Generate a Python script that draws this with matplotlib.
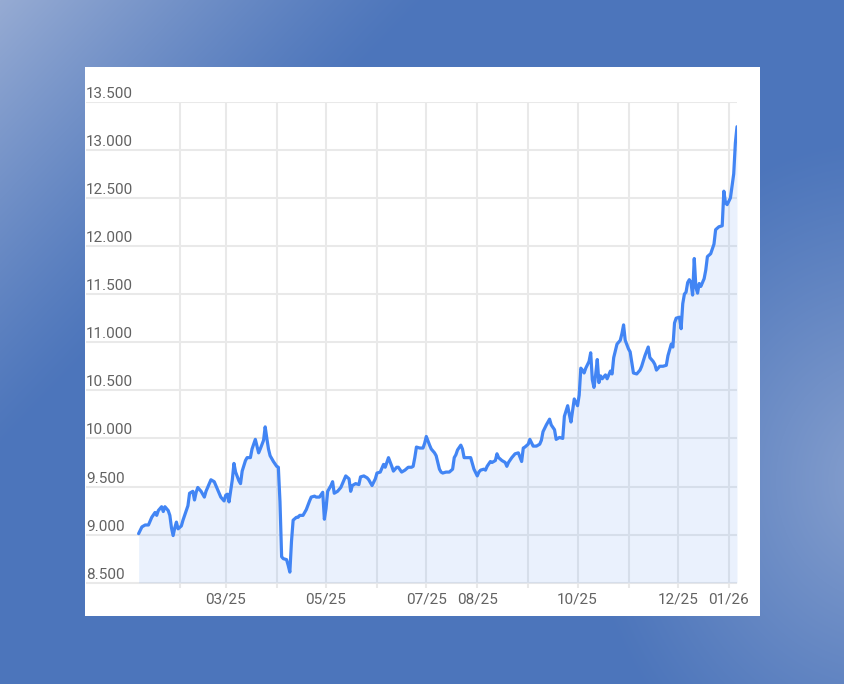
import numpy as np
import pandas as pd
import matplotlib
matplotlib.use("Agg")
import matplotlib.pyplot as plt
import matplotlib.transforms as mtrans
from matplotlib.patches import Rectangle

# ---------------- data ----------------
dates = [
    "2025-01-07", "2025-01-09", "2025-01-11", "2025-01-13", "2025-01-15", "2025-01-17", "2025-01-18",
    "2025-01-19", "2025-01-21", "2025-01-22", "2025-01-23", "2025-01-25", "2025-01-26", "2025-01-27",
    "2025-01-28", "2025-01-29", "2025-01-30", "2025-01-31", "2025-02-02", "2025-02-03", "2025-02-05",
    "2025-02-06", "2025-02-07", "2025-02-09", "2025-02-10", "2025-02-11", "2025-02-12", "2025-02-14",
    "2025-02-16", "2025-02-17", "2025-02-18", "2025-02-20", "2025-02-22", "2025-02-23", "2025-02-25",
    "2025-02-26", "2025-02-28", "2025-03-01", "2025-03-02", "2025-03-03", "2025-03-05", "2025-03-06",
    "2025-03-07", "2025-03-09", "2025-03-10", "2025-03-11", "2025-03-13", "2025-03-14", "2025-03-16",
    "2025-03-17", "2025-03-19", "2025-03-20", "2025-03-21", "2025-03-22", "2025-03-24", "2025-03-25",
    "2025-03-26", "2025-03-27", "2025-03-28", "2025-03-30", "2025-04-01", "2025-04-02", "2025-04-03",
    "2025-04-04", "2025-04-05", "2025-04-07", "2025-04-08", "2025-04-09", "2025-04-10", "2025-04-11",
    "2025-04-13", "2025-04-14", "2025-04-15", "2025-04-17", "2025-04-19", "2025-04-21", "2025-04-22",
    "2025-04-24", "2025-04-25", "2025-04-27", "2025-04-29", "2025-04-30", "2025-05-01", "2025-05-02",
    "2025-05-04", "2025-05-05", "2025-05-06", "2025-05-08", "2025-05-10", "2025-05-12", "2025-05-13",
    "2025-05-15", "2025-05-16", "2025-05-17", "2025-05-19", "2025-05-21", "2025-05-22", "2025-05-24",
    "2025-05-26", "2025-05-27", "2025-05-29", "2025-05-31", "2025-06-01", "2025-06-03", "2025-06-05",
    "2025-06-06", "2025-06-07", "2025-06-08", "2025-06-10", "2025-06-11", "2025-06-13", "2025-06-14",
    "2025-06-16", "2025-06-18", "2025-06-20", "2025-06-22", "2025-06-23", "2025-06-24", "2025-06-25",
    "2025-06-27", "2025-06-29", "2025-06-30", "2025-07-01", "2025-07-03", "2025-07-04", "2025-07-06",
    "2025-07-07", "2025-07-09", "2025-07-10", "2025-07-11", "2025-07-13", "2025-07-15", "2025-07-17",
    "2025-07-18", "2025-07-19", "2025-07-20", "2025-07-22", "2025-07-23", "2025-07-24", "2025-07-26",
    "2025-07-28", "2025-07-30", "2025-08-01", "2025-08-02", "2025-08-03", "2025-08-05", "2025-08-06",
    "2025-08-07", "2025-08-09", "2025-08-10", "2025-08-12", "2025-08-13", "2025-08-14", "2025-08-16",
    "2025-08-18", "2025-08-19", "2025-08-20", "2025-08-22", "2025-08-24", "2025-08-26", "2025-08-28",
    "2025-08-29", "2025-08-30", "2025-09-01", "2025-09-02", "2025-09-04", "2025-09-06", "2025-09-08",
    "2025-09-09", "2025-09-10", "2025-09-12", "2025-09-14", "2025-09-15", "2025-09-17", "2025-09-18",
    "2025-09-20", "2025-09-22", "2025-09-23", "2025-09-25", "2025-09-26", "2025-09-27", "2025-09-29",
    "2025-10-01", "2025-10-02", "2025-10-03", "2025-10-04", "2025-10-05", "2025-10-06", "2025-10-08",
    "2025-10-09", "2025-10-10", "2025-10-11", "2025-10-12", "2025-10-13", "2025-10-14", "2025-10-15",
    "2025-10-16", "2025-10-18", "2025-10-19", "2025-10-21", "2025-10-22", "2025-10-23", "2025-10-25",
    "2025-10-27", "2025-10-28", "2025-10-29", "2025-10-30", "2025-11-01", "2025-11-02", "2025-11-04",
    "2025-11-06", "2025-11-08", "2025-11-09", "2025-11-11", "2025-11-13", "2025-11-14", "2025-11-16",
    "2025-11-17", "2025-11-18", "2025-11-20", "2025-11-22", "2025-11-24", "2025-11-25", "2025-11-27",
    "2025-11-28", "2025-11-29", "2025-11-30", "2025-12-02", "2025-12-03", "2025-12-04", "2025-12-05",
    "2025-12-06", "2025-12-07", "2025-12-08", "2025-12-09", "2025-12-10", "2025-12-11", "2025-12-12",
    "2025-12-13", "2025-12-14", "2025-12-15", "2025-12-17", "2025-12-18", "2025-12-19", "2025-12-21",
    "2025-12-23", "2025-12-24", "2025-12-26", "2025-12-28", "2025-12-29", "2025-12-30", "2025-12-31",
    "2026-01-02", "2026-01-04", "2026-01-05", "2026-01-06",
]
values = [
    9010, 9080, 9100, 9100, 9180, 9230, 9200, 9250, 9290, 9240, 9290, 9250, 9200, 9070, 8990, 9070,
    9130, 9060, 9090, 9150, 9250, 9300, 9430, 9450, 9360, 9440, 9490, 9450, 9390, 9450, 9490, 9570,
    9550, 9510, 9430, 9390, 9350, 9410, 9420, 9340, 9570, 9740, 9650, 9560, 9530, 9660, 9770, 9800,
    9800, 9890, 9990, 9920, 9850, 9890, 9980, 10120, 10000, 9890, 9820, 9760, 9710, 9700, 9340, 8770,
    8750, 8740, 8680, 8610, 8930, 9150, 9180, 9180, 9200, 9200, 9260, 9350, 9390, 9400, 9390, 9390,
    9440, 9160, 9270, 9450, 9510, 9550, 9430, 9450, 9490, 9570, 9610, 9580, 9450, 9510, 9530, 9520,
    9600, 9610, 9590, 9570, 9510, 9580, 9640, 9650, 9730, 9700, 9750, 9800, 9710, 9660, 9700, 9700,
    9650, 9670, 9700, 9700, 9710, 9800, 9910, 9900, 9900, 9950, 10020, 9930, 9890, 9850, 9820, 9680,
    9650, 9640, 9650, 9650, 9680, 9800, 9830, 9880, 9930, 9890, 9800, 9800, 9800, 9680, 9610, 9650,
    9670, 9680, 9670, 9710, 9760, 9750, 9770, 9840, 9800, 9770, 9750, 9710, 9750, 9800, 9840, 9850,
    9760, 9900, 9910, 9940, 9990, 9920, 9920, 9940, 9980, 10070, 10140, 10200, 10140, 10090, 9990, 10010,
    10000, 10230, 10340, 10250, 10170, 10410, 10340, 10450, 10730, 10710, 10680, 10730, 10800, 10890, 10610, 10530,
    10660, 10820, 10580, 10650, 10620, 10660, 10620, 10700, 10670, 10840, 10980, 11020, 11090, 11180, 11020, 10930,
    10900, 10680, 10670, 10710, 10750, 10860, 10950, 10840, 10800, 10770, 10710, 10750, 10750, 10760, 10860, 10980,
    10950, 11200, 11250, 11260, 11140, 11400, 11500, 11520, 11620, 11650, 11620, 11490, 11870, 11570, 11510, 11610,
    11580, 11660, 11750, 11890, 11920, 12020, 12170, 12200, 12210, 12570, 12450, 12430, 12500, 12750, 13070, 13240,
]

y_ticks = [8500, 9000, 9500, 10000, 10500, 11000, 11500, 12000, 12500, 13000, 13500]
y_labels = ["8.500", "9.000", "9.500", "10.000", "10.500", "11.000", "11.500",
            "12.000", "12.500", "13.000", "13.500"]
month_lines = ["2025-02-01", "2025-03-01", "2025-04-01", "2025-05-01", "2025-06-01", "2025-07-01",
               "2025-08-01", "2025-09-01", "2025-10-01", "2025-11-01", "2025-12-01", "2026-01-01"]
x_label_dates = ["2025-03-01", "2025-05-01", "2025-07-01", "2025-08-01", "2025-10-01",
                 "2025-12-01", "2026-01-01"]
x_labels = ["03/25", "05/25", "07/25", "08/25", "10/25", "12/25", "01/26"]

# ---------------- figure ----------------
W, H = 845, 684
fig = plt.figure(figsize=(W / 100, H / 100), dpi=100)

# gradient background
bg = fig.add_axes([0, 0, 1, 1])
bg.axis("off")
yy, xx = np.mgrid[0:H, 0:W]
base = np.array([76, 117, 187]) / 255.0
light = np.array([150, 171, 211]) / 255.0
s1 = np.clip(1 - (xx + yy * 0.95) / 430.0, 0, 1) ** 1.2
d2 = np.sqrt(((xx - 880) / 1.0) ** 2 + ((yy - 480) / 1.15) ** 2)
s2 = np.clip(1 - d2 / 300.0, 0, 1) ** 1.1 * 0.8
s = np.clip(s1 + s2, 0, 1)[..., None]
img = base * (1 - s) + light * s
bg.imshow(img, extent=[0, 1, 0, 1], aspect="auto", origin="upper", interpolation="bilinear")
bg.set_xlim(0, 1)
bg.set_ylim(0, 1)

# white panel
fig.add_artist(Rectangle((85 / W, (H - 616) / H), (760 - 85) / W, (616 - 67) / H,
                         transform=fig.transFigure, facecolor="white", edgecolor="none", zorder=1))

# main axes
ax_left, ax_right, ax_top, ax_bottom = 86, 737, 101.7, 588
ax = fig.add_axes([ax_left / W, (H - ax_bottom) / H, (ax_right - ax_left) / W, (ax_bottom - ax_top) / H])
ax.set_zorder(2)
ax.patch.set_alpha(0)
for sp in ax.spines.values():
    sp.set_visible(False)
ax.set_xticks([])
ax.set_yticks([])

x = pd.to_datetime(dates)
ax.set_xlim(pd.Timestamp("2024-12-06"), pd.Timestamp("2026-01-06"))
ax.set_ylim(8445, 13500)

grid_c = "#e9e9e9"
for v in y_ticks:
    ax.axhline(v, color=grid_c, lw=1.5, zorder=1)
for m in month_lines:
    ax.axvline(pd.Timestamp(m), color=grid_c, lw=1.5, zorder=1)

ax.fill_between(x, values, 8500, color="#4285f4", alpha=0.11, lw=0, zorder=2)
ax.plot(x, values, color="#4285f4", lw=2.3, zorder=3, solid_joinstyle="round", solid_capstyle="round")

txt_kw = dict(fontsize=11, family=["Roboto", "DejaVu Sans"], color="#626262")
ytr = mtrans.blended_transform_factory(ax.transAxes, ax.transData) + \
    mtrans.ScaledTranslation(0, 4 / 100, fig.dpi_scale_trans)
for v, lab in zip(y_ticks, y_labels):
    ax.text(0.0, v, lab, transform=ytr, ha="left", va="baseline", **txt_kw)

xtr = mtrans.blended_transform_factory(ax.transData, ax.transAxes) + \
    mtrans.ScaledTranslation(0, -11 / 100, fig.dpi_scale_trans)
for d, lab in zip(x_label_dates, x_labels):
    ax.text(pd.Timestamp(d), 0.0, lab, transform=xtr, ha="center", va="center", **txt_kw)

fig.savefig("out.png", dpi=100)
